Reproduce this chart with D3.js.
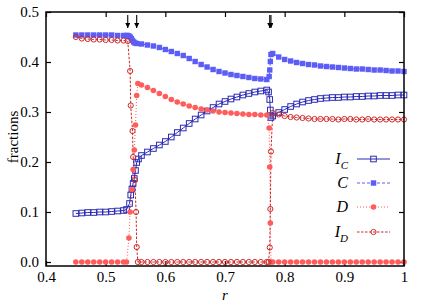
<!DOCTYPE html>
<html>
<head>
<meta charset="utf-8">
<script src="https://cdn.jsdelivr.net/npm/d3@7"></script>
<style>
  body { margin: 0; background: #fff; }
  text { font-family: "Liberation Serif", "DejaVu Serif", serif; }
</style>
</head>
<body>
<div id="chart"></div>
<script>
// fractions vs r

// r 网格
const rLow = [0.45, 0.46, 0.47, 0.48, 0.49, 0.50, 0.51, 0.52, 0.53];
const rMid = [0.56, 0.57, 0.58, 0.59, 0.60, 0.61, 0.62, 0.63, 0.64, 0.65, 0.66,
              0.67, 0.68, 0.69, 0.70, 0.71, 0.72, 0.73, 0.74, 0.75, 0.76, 0.77];
const rHigh = [0.78, 0.79, 0.80, 0.81, 0.82, 0.83, 0.84, 0.85, 0.86, 0.87, 0.88, 0.89,
               0.90, 0.91, 0.92, 0.93, 0.94, 0.95, 0.96, 0.97, 0.98, 0.99, 1.00];

// I_C
const rIC1 = [0.535, 0.540, 0.542, 0.544, 0.546, 0.548, 0.550, 0.552, 0.555];
const rIC2 = [0.773, 0.775, 0.776, 0.777];
const vIC = [
  0.097, 0.098, 0.099, 0.099, 0.100, 0.100, 0.101, 0.102, 0.103,
  0.105, 0.117, 0.134, 0.146, 0.157, 0.167, 0.183, 0.199, 0.206,
  0.213, 0.220, 0.227, 0.234, 0.241, 0.250, 0.259, 0.268, 0.277, 0.286, 0.294,
  0.302, 0.309, 0.316, 0.321, 0.326, 0.330, 0.334, 0.337, 0.340, 0.342, 0.344,
  0.340, 0.325, 0.304, 0.289,
  0.292, 0.299, 0.305, 0.311, 0.316, 0.320, 0.323, 0.325, 0.327, 0.328, 0.329, 0.329,
  0.330, 0.330, 0.331, 0.331, 0.332, 0.332, 0.333, 0.333, 0.333, 0.334, 0.334
];

// C
const rC1 = [0.535, 0.537, 0.539, 0.541, 0.543, 0.545, 0.547, 0.549, 0.552];
const rC2 = [0.774, 0.775, 0.776, 0.777];
const vC = [
  0.454, 0.454, 0.454, 0.454, 0.454, 0.454, 0.454, 0.453, 0.453,
  0.453, 0.453, 0.452, 0.450, 0.447, 0.443, 0.440, 0.438, 0.437,
  0.436, 0.434, 0.432, 0.429, 0.425, 0.421, 0.417, 0.413, 0.407, 0.401, 0.395,
  0.390, 0.385, 0.381, 0.378, 0.375, 0.373, 0.371, 0.369, 0.367, 0.366, 0.365,
  0.371, 0.384, 0.401, 0.415,
  0.417, 0.410, 0.405, 0.402, 0.399, 0.397, 0.395, 0.394, 0.392, 0.391, 0.390, 0.389,
  0.388, 0.387, 0.386, 0.386, 0.385, 0.384, 0.384, 0.383, 0.382, 0.382, 0.381
];

// D
const rD1 = [0.535, 0.539, 0.541, 0.544, 0.546, 0.548, 0.550, 0.552, 0.554];
const rD2 = [0.774, 0.775, 0.776, 0.777];
const vD = [
  0, 0, 0, 0, 0, 0, 0, 0, 0,
  0.000, 0.048, 0.100, 0.145, 0.185, 0.224, 0.274, 0.333, 0.357,
  0.354, 0.349, 0.343, 0.337, 0.331, 0.325, 0.320, 0.316, 0.312, 0.309, 0.306,
  0.304, 0.302, 0.300, 0.299, 0.298, 0.297, 0.296, 0.295, 0.295, 0.294, 0.294,
  0.268, 0.190, 0.078, 0.000,
  0, 0, 0, 0, 0, 0, 0, 0, 0, 0, 0, 0,
  0, 0, 0, 0, 0, 0, 0, 0, 0, 0, 0
];

// I_D
const rID1 = [0.537, 0.541, 0.542, 0.545, 0.546, 0.549, 0.551, 0.552, 0.554];
const rID2 = [0.773, 0.775, 0.776, 0.777];
const vID = [
  0.450, 0.447, 0.446, 0.445, 0.445, 0.444, 0.444, 0.443, 0.443,
  0.442, 0.382, 0.313, 0.262, 0.210, 0.164, 0.100, 0.030, 0.000,
  0, 0, 0, 0, 0, 0, 0, 0, 0, 0, 0,
  0, 0, 0, 0, 0, 0, 0, 0, 0, 0, 0,
  0.000, 0.029, 0.106, 0.221,
  0.298, 0.295, 0.292, 0.290, 0.289, 0.288, 0.287, 0.286, 0.286, 0.286, 0.286, 0.285,
  0.286, 0.286, 0.285, 0.285, 0.286, 0.285, 0.285, 0.285, 0.285, 0.285, 0.285
];

// 转变点箭头
const arrowR = [0.537, 0.552, 0.775, 0.777];

const xTicks = [0.4, 0.5, 0.6, 0.7, 0.8, 0.9, 1];
const yTicks = [0.0, 0.1, 0.2, 0.3, 0.4, 0.5];

function buildSeries(r1, r2, v) {
  const rs = [...rLow, ...r1, ...rMid, ...r2, ...rHigh];
  return rs.map((r, i) => ({ r: r, v: v[i] }));
}

const series = [
  { key: 'IC', label: 'I', sub: 'C', data: buildSeries(rIC1, rIC2, vIC),
    color: '#2b2bb5', dash: null, marker: 'openSquare' },
  { key: 'C', label: 'C', sub: null, data: buildSeries(rC1, rC2, vC),
    color: '#5c5cf6', dash: '3,2', marker: 'square' },
  { key: 'D', label: 'D', sub: null, data: buildSeries(rD1, rD2, vD),
    color: '#ff5c5c', dash: '1,2', marker: 'circle' },
  { key: 'ID', label: 'I', sub: 'D', data: buildSeries(rID1, rID2, vID),
    color: '#cc2a2a', dash: '2.5,1.5', marker: 'openCircle' }
];

const width = 436;
const height = 306;
const margin = { top: 12, right: 32, bottom: 40, left: 46 };
const serif = '"Liberation Serif", "DejaVu Serif", serif';

const svg = d3.select('#chart')
  .append('svg')
  .attr('width', width)
  .attr('height', height);

const x = d3.scaleLinear()
  .domain([0.4, 1.0])
  .range([margin.left, width - margin.right]);

const y = d3.scaleLinear()
  .domain([-0.008, 0.5])
  .range([height - margin.bottom, margin.top]);

// 刻度（朝内）
const tick = 5;
const axB = svg.append('g')
  .attr('transform', `translate(0,${height - margin.bottom})`)
  .call(d3.axisBottom(x).tickValues(xTicks).tickSize(-tick).tickPadding(5)
    .tickFormat(d => d === 1 ? '1' : d3.format('.1f')(d)));
const axT = svg.append('g')
  .attr('transform', `translate(0,${margin.top})`)
  .call(d3.axisTop(x).tickValues(xTicks).tickSize(-tick).tickFormat(''));
const axL = svg.append('g')
  .attr('transform', `translate(${margin.left},0)`)
  .call(d3.axisLeft(y).tickValues(yTicks).tickSize(-tick).tickPadding(7)
    .tickFormat(d3.format('.1f')));
const axR = svg.append('g')
  .attr('transform', `translate(${width - margin.right},0)`)
  .call(d3.axisRight(y).tickValues(yTicks).tickSize(-tick).tickFormat(''));

[axB, axT, axL, axR].forEach(a => {
  a.attr('font-family', serif).attr('font-size', 15);
  a.select('.domain').remove();
  a.selectAll('line').attr('stroke', '#000').attr('stroke-width', 1.2);
  a.selectAll('text')
    .style('font-family', serif)
    .style('font-size', '15px')
    .attr('fill', '#000');
});

// 曲线
const line = d3.line().x(d => x(d.r)).y(d => y(d.v));

series.forEach(s => {
  svg.append('path')
    .datum(s.data)
    .attr('fill', 'none')
    .attr('stroke', s.color)
    .attr('stroke-width', 1)
    .attr('stroke-dasharray', s.dash)
    .attr('d', line);
});

function drawMarker(g, type, color, cx, cy) {
  if (type === 'square') {
    g.append('rect').attr('x', cx - 2.7).attr('y', cy - 2.7)
      .attr('width', 5.4).attr('height', 5.4).attr('fill', color);
  } else if (type === 'openSquare') {
    g.append('rect').attr('x', cx - 2.8).attr('y', cy - 2.8)
      .attr('width', 5.6).attr('height', 5.6)
      .attr('fill', 'none').attr('stroke', color).attr('stroke-width', 1);
  } else if (type === 'circle') {
    g.append('circle').attr('cx', cx).attr('cy', cy).attr('r', 2.8).attr('fill', color);
  } else {
    g.append('circle').attr('cx', cx).attr('cy', cy).attr('r', 2.6)
      .attr('fill', 'none').attr('stroke', color).attr('stroke-width', 1);
  }
}

// 标记点
const drawOrder = ['C', 'IC', 'D', 'ID'];
drawOrder.forEach(k => {
  const s = series.find(d => d.key === k);
  const g = svg.append('g');
  s.data.forEach(d => drawMarker(g, s.marker, s.color, x(d.r), y(d.v)));
});

// 边框
svg.append('rect')
  .attr('x', margin.left)
  .attr('y', margin.top)
  .attr('width', width - margin.left - margin.right)
  .attr('height', height - margin.top - margin.bottom)
  .attr('fill', 'none')
  .attr('stroke', '#000')
  .attr('stroke-width', 1.5);

// 箭头
svg.append('defs').append('marker')
  .attr('id', 'head')
  .attr('viewBox', '0 0 10 10')
  .attr('refX', 10).attr('refY', 5)
  .attr('markerWidth', 5).attr('markerHeight', 5)
  .attr('markerUnits', 'userSpaceOnUse')
  .attr('orient', 'auto')
  .append('path').attr('d', 'M0,0 L10,5 L0,10 Z').attr('fill', '#000');

arrowR.forEach(r => {
  svg.append('line')
    .attr('x1', x(r)).attr('x2', x(r))
    .attr('y1', margin.top + 3).attr('y2', margin.top + 16)
    .attr('stroke', '#000').attr('stroke-width', 1.1)
    .attr('marker-end', 'url(#head)');
});

// 轴标题
svg.append('text')
  .attr('transform', 'rotate(-90)')
  .attr('x', -137)
  .attr('y', 18)
  .attr('text-anchor', 'middle')
  .style('font-size', '15px')
  .text('fractions');

svg.append('text')
  .attr('x', x(0.7))
  .attr('y', 300)
  .attr('text-anchor', 'middle')
  .style('font-size', '15px')
  .style('font-style', 'italic')
  .text('r');

// 图例
const legendY = [159, 183, 207, 232];
series.forEach((s, i) => {
  const ly = legendY[i];
  const t = svg.append('text')
    .attr('x', 348)
    .attr('y', ly + 5)
    .attr('text-anchor', 'end')
    .style('font-size', '16px')
    .style('font-style', 'italic');
  t.append('tspan').text(s.label);
  if (s.sub) {
    t.append('tspan')
      .attr('dy', 5)
      .style('font-size', '11px')
      .text(s.sub);
  }
  svg.append('line')
    .attr('x1', 357).attr('x2', 390)
    .attr('y1', ly).attr('y2', ly)
    .attr('stroke', s.color).attr('stroke-width', 1)
    .attr('stroke-dasharray', s.dash);
  drawMarker(svg, s.marker, s.color, 373.5, ly);
});
</script>
</body>
</html>
